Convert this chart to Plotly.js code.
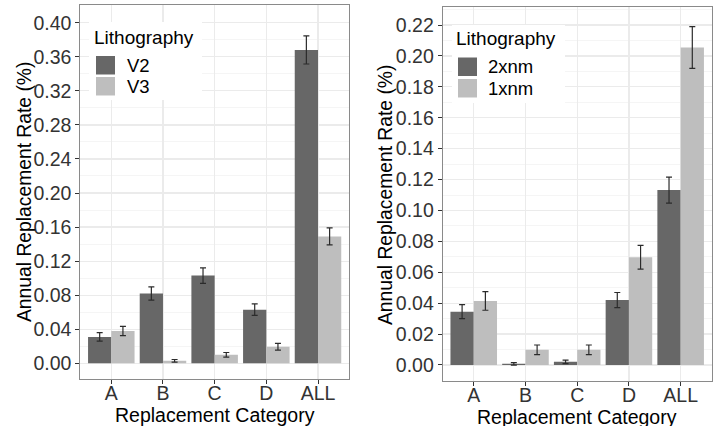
<!DOCTYPE html>
<html>
<head>
<meta charset="utf-8">
<script src="https://cdn.plot.ly/plotly-3.0.1.min.js"></script>
<style>html,body{margin:0;padding:0;background:#fff;}#chart{width:718px;height:426px;}</style>
</head>
<body>
<div id="chart"></div>
<script>
// ---- data ----
const categories = ["A", "B", "C", "D", "ALL"];
const legendTitle = "Lithography";

// left panel
const leftSeriesNames = ["V2", "V3"];
const leftV2 = [0.031, 0.082, 0.103, 0.063, 0.368];
const leftV2Err = [0.0050, 0.0078, 0.0090, 0.0068, 0.0165];
const leftV3 = [0.038, 0.003, 0.010, 0.0195, 0.149];
const leftV3Err = [0.0055, 0.0015, 0.0027, 0.0040, 0.0100];
const leftYTicks = [0.00, 0.04, 0.08, 0.12, 0.16, 0.20, 0.24, 0.28, 0.32, 0.36, 0.40];

// right panel
const rightSeriesNames = ["2xnm", "1xnm"];
const right2x = [0.0345, 0.0007, 0.0020, 0.0420, 0.1132];
const right2xErr = [0.0045, 0.0008, 0.0011, 0.0049, 0.0084];
const right1x = [0.0414, 0.0098, 0.0098, 0.0697, 0.2055];
const right1xErr = [0.0060, 0.0031, 0.0031, 0.0077, 0.0135];
const rightYTicks = [0.00, 0.02, 0.04, 0.06, 0.08, 0.10, 0.12, 0.14, 0.16, 0.18, 0.20, 0.22];

const xTitle = "Replacement Category";
const yTitle = "Annual Replacement Rate (%)";

// ---- styling ----
const DARK = "#676767";
const LIGHT = "#BEBEBE";
const FONT = "Liberation Sans, Arial, Helvetica, sans-serif";
const W = 718, H = 426;
const px = v => v / W;
const py = v => 1 - v / H;

function bar(x, y, err, name, color, xa, ya) {
  return {
    type: "bar", x: x, y: y, name: name, xaxis: xa, yaxis: ya,
    marker: {color: color, line: {width: 0}},
    error_y: {type: "data", array: err, visible: true, color: "#2b2b2b", thickness: 1.2, width: 3},
    showlegend: false, hoverinfo: "skip"
  };
}

const traces = [
  bar(categories, leftV2, leftV2Err, leftSeriesNames[0], DARK, "x", "y"),
  bar(categories, leftV3, leftV3Err, leftSeriesNames[1], LIGHT, "x", "y"),
  bar(categories, right2x, right2xErr, rightSeriesNames[0], DARK, "x2", "y2"),
  bar(categories, right1x, right1xErr, rightSeriesNames[1], LIGHT, "x2", "y2")
];

function xAxis(domain, anchor) {
  return {
    domain: domain, anchor: anchor, type: "category", range: [-0.6, 4.6],
    showline: true, mirror: true, linecolor: "#8a8a8a", linewidth: 1,
    showgrid: true, gridcolor: "#EBEBEB", gridwidth: 1.2, zeroline: false,
    ticks: "outside", ticklen: 4, tickwidth: 1, tickcolor: "#333",
    ticklabelstandoff: -7,
    tickfont: {family: FONT, size: 19.5, color: "#333"},
    automargin: false, fixedrange: true
  };
}
function yAxis(domain, anchor, range, ticks, minorStep) {
  return {
    domain: domain, anchor: anchor, range: range,
    tickmode: "array", tickvals: ticks, ticktext: ticks.map(v => v.toFixed(2)),
    showline: true, mirror: true, linecolor: "#8a8a8a", linewidth: 1,
    showgrid: true, gridcolor: "#EBEBEB", gridwidth: 1.2, zeroline: false,
    minor: {tick0: 0, dtick: minorStep, showgrid: true, gridcolor: "#F3F3F3", gridwidth: 0.8},
    ticks: "outside", ticklen: 4, tickwidth: 1, tickcolor: "#333",
    tickfont: {family: FONT, size: 19.5, color: "#333"},
    automargin: false, fixedrange: true
  };
}

function axisTitles(xcx, xcy, ycx, ycy) {
  return [
    {xref: "paper", yref: "paper", x: px(xcx), y: py(xcy), xanchor: "center", yanchor: "middle", showarrow: false,
     text: xTitle, font: {family: FONT, size: 19.5, color: "#000"}},
    {xref: "paper", yref: "paper", x: px(ycx), y: py(ycy), xanchor: "center", yanchor: "middle", showarrow: false,
     textangle: -90, text: yTitle, font: {family: FONT, size: 19.3, color: "#000"}}
  ];
}

// custom legends (built from names arrays)
function legend(x0, y0, x1, y1, tx, ty, keyX, keyY1, keyY2, labelX, names) {
  const shapes = [
    {type: "rect", xref: "paper", yref: "paper", x0: px(x0), x1: px(x1), y0: py(y1), y1: py(y0),
     fillcolor: "#fff", line: {width: 0}, layer: "above"},
    {type: "rect", xref: "paper", yref: "paper", x0: px(keyX), x1: px(keyX + 19), y0: py(keyY1 + 18.5), y1: py(keyY1),
     fillcolor: DARK, line: {width: 0}, layer: "above"},
    {type: "rect", xref: "paper", yref: "paper", x0: px(keyX), x1: px(keyX + 19), y0: py(keyY2 + 18.5), y1: py(keyY2),
     fillcolor: LIGHT, line: {width: 0}, layer: "above"}
  ];
  const ann = [
    {xref: "paper", yref: "paper", x: px(tx), y: py(ty), xanchor: "left", yanchor: "middle", showarrow: false,
     text: legendTitle, font: {family: FONT, size: 19, color: "#000"}},
    {xref: "paper", yref: "paper", x: px(labelX), y: py(keyY1 + 9.5), xanchor: "left", yanchor: "middle", showarrow: false,
     text: names[0], font: {family: FONT, size: 18.5, color: "#000"}},
    {xref: "paper", yref: "paper", x: px(labelX), y: py(keyY2 + 9.5), xanchor: "left", yanchor: "middle", showarrow: false,
     text: names[1], font: {family: FONT, size: 18.5, color: "#000"}}
  ];
  return {shapes: shapes, ann: ann};
}
const L1 = legend(89, 22, 202, 100, 92, 37, 96, 56, 77, 125, leftSeriesNames);
const L2 = legend(452, 25, 565, 103, 454, 39, 458, 57.5, 79, 486, rightSeriesNames);

const layout = {
  width: W, height: H,
  margin: {l: 0, r: 0, t: 0, b: 0},
  paper_bgcolor: "#fff", plot_bgcolor: "#fff",
  barmode: "group", bargap: 0.1, bargroupgap: 0,
  showlegend: false,
  font: {family: FONT},
  xaxis: xAxis([px(80.3), px(349)], "y"),
  yaxis: yAxis([py(379), py(5)], "x", [-0.0184, 0.4208], leftYTicks, 0.02),
  xaxis2: xAxis([px(442.7), px(711.7)], "y2"),
  yaxis2: yAxis([py(380.7), py(7.3)], "x2", [-0.0102, 0.2315], rightYTicks, 0.01),
  shapes: L1.shapes.concat(L2.shapes),
  annotations: L1.ann.concat(L2.ann)
    .concat(axisTitles(215, 414.5, 24.5, 192.5))
    .concat(axisTitles(577, 416.5, 385, 195))
};

Plotly.newPlot("chart", traces, layout, {staticPlot: true, displayModeBar: false});
</script>
</body>
</html>
